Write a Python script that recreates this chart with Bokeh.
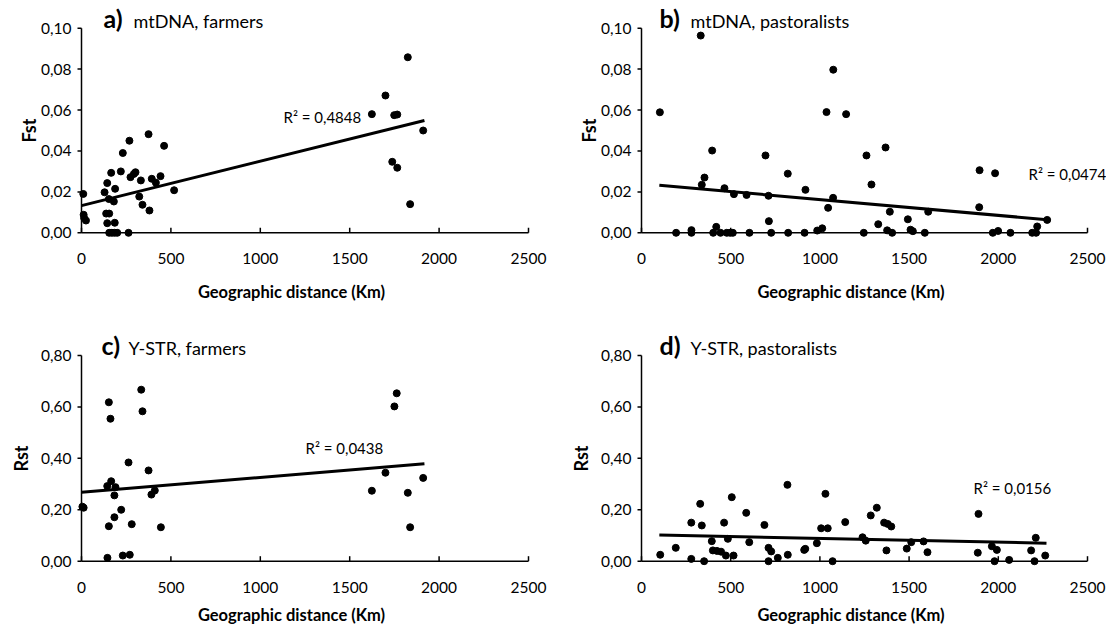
import numpy as np
from bokeh.plotting import figure
from bokeh.models import Range1d
from bokeh.layouts import column, row
from bokeh.embed import file_html
from bokeh.resources import INLINE
from bokeh.core.properties import value

FONT = "Lato"
MID = 0.387  # distance from alphabetic baseline to em-box middle, in em (Lato)

# ---------------- data ----------------
x_ticks = [0, 500, 1000, 1500, 2000, 2500]
x_tick_labels = ["0", "500", "1000", "1500", "2000", "2500"]
fst_ticks = [0, 0.02, 0.04, 0.06, 0.08, 0.10]
fst_tick_labels = ["0,00", "0,02", "0,04", "0,06", "0,08", "0,10"]
rst_ticks = [0, 0.2, 0.4, 0.6, 0.8]
rst_tick_labels = ["0,00", "0,20", "0,40", "0,60", "0,80"]

# a) mtDNA, farmers
a_x = [10, 12, 15, 25, 129, 144, 166, 220, 231, 268, 375, 462, 274, 293, 302, 332, 393, 416, 442, 518,
       188, 153, 181, 323, 341, 380, 138, 155, 144, 186, 155, 170, 185, 200, 263,
       1825, 1700, 1624, 1749, 1766, 1911, 1738, 1766, 1838]
a_y = [0.0190, 0.0088, 0.0072, 0.0060, 0.0198, 0.0243, 0.0293, 0.0300, 0.0390, 0.0450, 0.0482, 0.0425,
       0.0272, 0.0288, 0.0296, 0.0256, 0.0264, 0.0245, 0.0277, 0.0208,
       0.0215, 0.0165, 0.0153, 0.0177, 0.0137, 0.0109, 0.0094, 0.0094, 0.0047, 0.0049, 0, 0, 0, 0, 0,
       0.0858, 0.0671, 0.0580, 0.0575, 0.0578, 0.0500, 0.0347, 0.0318, 0.0140]
a_trend_x = [0, 1918]
a_trend_y = [0.0133, 0.0549]

# b) mtDNA, pastoralists
b_x = [103, 332, 1075, 396, 353, 338, 465, 518, 589, 712, 695, 820, 919, 1037, 1147, 1046, 1074, 714, 419, 1013,
       985, 280, 194, 280, 402, 443, 478, 497, 512, 605, 727, 822, 914, 1368, 1261, 1289, 1392, 1327, 1493, 1607,
       1895, 1982, 1893, 2274, 2218, 1246, 1377, 1405, 1508, 1521, 1588, 1969, 1999, 2068, 2190, 2212]
b_y = [0.0589, 0.0964, 0.0797, 0.0402, 0.0270, 0.0235, 0.0218, 0.0189, 0.0185, 0.0181,
       0.0378, 0.0289, 0.0210, 0.0590, 0.0580, 0.0122, 0.0171, 0.0057, 0.0029, 0.0022,
       0.0011, 0.0013, 0, 0, 0, 0, 0, 0, 0, 0, 0, 0, 0,
       0.0417, 0.0378, 0.0236, 0.0103, 0.0042, 0.0066, 0.0103,
       0.0306, 0.0291, 0.0125, 0.0063, 0.0031, 0, 0.0012, 0, 0.0015, 0.0008, 0, 0, 0.0009, 0, 0, 0]
b_trend_x = [100, 2274]
b_trend_y = [0.0232, 0.0064]

# c) Y-STR, farmers
c_x = [5, 12, 153, 162, 334, 341, 263, 375, 166, 144, 190, 184, 391, 410, 222, 184, 153, 281, 444, 145,
       231, 270, 1763, 1750, 1700, 1911, 1624, 1825, 1838]
c_y = [0.212, 0.208, 0.618, 0.554, 0.667, 0.583, 0.384, 0.353, 0.311, 0.292, 0.288, 0.256, 0.259, 0.275,
       0.200, 0.171, 0.136, 0.144, 0.132, 0.013, 0.022, 0.025, 0.653, 0.602, 0.344, 0.324, 0.274, 0.266, 0.132]
c_trend_x = [0, 1918]
c_trend_y = [0.268, 0.379]

# d) Y-STR, pastoralists
d_x = [105, 192, 279, 329, 338, 279, 351, 394, 400, 423, 446, 473, 516, 463, 484, 506, 587, 604, 689, 712,
       727, 712, 764, 818, 820, 912, 918, 983, 1007, 1044, 1031, 1071, 1142, 1239, 1257, 1285, 1319, 1360,
       1380, 1400, 1373, 1487, 1512, 1581, 1603, 1889, 1885, 1964, 1992, 1979, 2061, 2184, 2210, 2203, 2263]
d_y = [0.025, 0.052, 0.150, 0.223, 0.139, 0.009, 0.0, 0.078, 0.042, 0.040, 0.037, 0.022, 0.022, 0.150,
       0.087, 0.249, 0.188, 0.074, 0.141, 0.052, 0.038, 0.0, 0.013, 0.297, 0.025, 0.044, 0.048, 0.070,
       0.128, 0.128, 0.262, 0.0, 0.152, 0.093, 0.080, 0.178, 0.208, 0.150, 0.145, 0.135, 0.042, 0.049,
       0.074, 0.077, 0.035, 0.184, 0.033, 0.058, 0.044, 0.0, 0.005, 0.042, 0.091, 0.0, 0.022]
d_trend_x = [100, 2270]
d_trend_y = [0.102, 0.070]

XMAX = 2500
TICK_PX = 15.5
LETTER_PX = 25
TITLE_PX = 18
R2_PX = 15
XLAB_PX = 16.5
YLAB_PX = 18


def make_panel(geom, xs, ys, tx, ty, ymax, yticks, ylabels, letter, title, r2, ylab):
    (W, H, ax0, ax1, ayt, ayb, letter_px, title_px, base_py, r2_px, xlab_px, ylab_px) = geom
    xscale = (ax1 - ax0) / XMAX
    yscale = (ayb - ayt) / ymax

    def dx(px):
        return (px - ax0) / xscale

    def dy(py):
        return (ayb - py) / yscale

    p = figure(width=W, height=H, x_range=Range1d(dx(0), dx(W)), y_range=Range1d(dy(H), dy(0)),
               output_backend="svg", toolbar_location=None,
               x_axis_location=None, y_axis_location=None,
               min_border_left=0, min_border_right=0, min_border_top=0, min_border_bottom=0)
    p.grid.visible = False
    p.outline_line_color = None
    p.background_fill_color = "white"
    p.border_fill_color = "white"

    def txt(xp, yp, s, size, bold=False, align="left", angle=0.0):
        p.text(x=[dx(xp)], y=[dy(yp)], text=[s], angle=angle, text_font=value(FONT),
               text_font_style="bold" if bold else "normal", text_font_size=value(f"{size}px"),
               text_color="black", text_align=align, text_baseline="middle")

    # axis lines
    p.segment(x0=[0, 0], y0=[0, 0], x1=[XMAX, 0], y1=[0, ymax], line_color="black", line_width=1.5)
    # x ticks (inside) and labels
    tin = 5 / yscale
    p.segment(x0=x_ticks, y0=[0] * len(x_ticks), x1=x_ticks, y1=[tin] * len(x_ticks),
              line_color="black", line_width=1.5)
    p.text(x=x_ticks, y=[dy(ayb + 26)] * len(x_ticks), text=x_tick_labels,
           text_font=value(FONT), text_font_size=value(f"{TICK_PX}px"), text_color="black",
           text_align="center", text_baseline="middle")
    # y ticks (outside) and labels
    tout = 4 / xscale
    p.segment(x0=[-tout] * len(yticks), y0=yticks, x1=[0] * len(yticks), y1=yticks,
              line_color="black", line_width=1.5)
    p.text(x=[dx(ax0 - 10)] * len(yticks), y=yticks, text=ylabels,
           text_font=value(FONT), text_font_size=value(f"{TICK_PX}px"), text_color="black",
           text_align="right", text_baseline="middle")

    # data
    p.line(tx, ty, line_color="black", line_width=3)
    p.scatter(xs, ys, size=7, marker="circle", fill_color="black", line_color="black")

    # texts
    txt(letter_px, base_py - MID * LETTER_PX, letter, LETTER_PX, bold=True)
    txt(title_px, base_py - MID * TITLE_PX, title, TITLE_PX)
    txt(r2_px[0], r2_px[1], r2, R2_PX)
    txt(xlab_px[0], xlab_px[1], "Geographic distance (Km)", XLAB_PX, bold=True, align="center")
    txt(ylab_px[0], ylab_px[1], ylab, YLAB_PX, bold=True, align="center", angle=np.pi / 2)
    return p


# geometry in figure pixels: W, H, axis x0, axis x-end, axis y-top, axis y-0,
# letter x, title x, title baseline, R2 (left, mid), x title (centre x, centre y), y title (centre x, centre y)
geom_a = (560, 315, 81, 528, 27.7, 232.3, 103, 133, 27.3, (283, 116), (291, 291), (28, 130))
geom_b = (546, 315, 81, 527, 27.7, 232.3, 99, 130, 27.3, (468, 173), (290.5, 291), (28, 130))
geom_c = (560, 313, 81, 528, 40, 245.7, 101, 128, 39.3, (305, 132), (291, 299), (20, 143))
geom_d = (546, 313, 81, 527, 40, 245.7, 99, 130, 39.3, (413, 172), (290.5, 299), (20, 143))

pa = make_panel(geom_a, a_x, a_y, a_trend_x, a_trend_y, 0.10, fst_ticks, fst_tick_labels,
                "a)", "mtDNA, farmers", "R\u00b2 = 0,4848", "Fst")
pb = make_panel(geom_b, b_x, b_y, b_trend_x, b_trend_y, 0.10, fst_ticks, fst_tick_labels,
                "b)", "mtDNA, pastoralists", "R\u00b2 = 0,0474", "Fst")
pc = make_panel(geom_c, c_x, c_y, c_trend_x, c_trend_y, 0.8, rst_ticks, rst_tick_labels,
                "c)", "Y-STR, farmers", "R\u00b2 = 0,0438", "Rst")
pd = make_panel(geom_d, d_x, d_y, d_trend_x, d_trend_y, 0.8, rst_ticks, rst_tick_labels,
                "d)", "Y-STR, pastoralists", "R\u00b2 = 0,0156", "Rst")

layout = column(row(pa, pb), row(pc, pd))
open("out.html", "w").write(file_html(layout, INLINE))
